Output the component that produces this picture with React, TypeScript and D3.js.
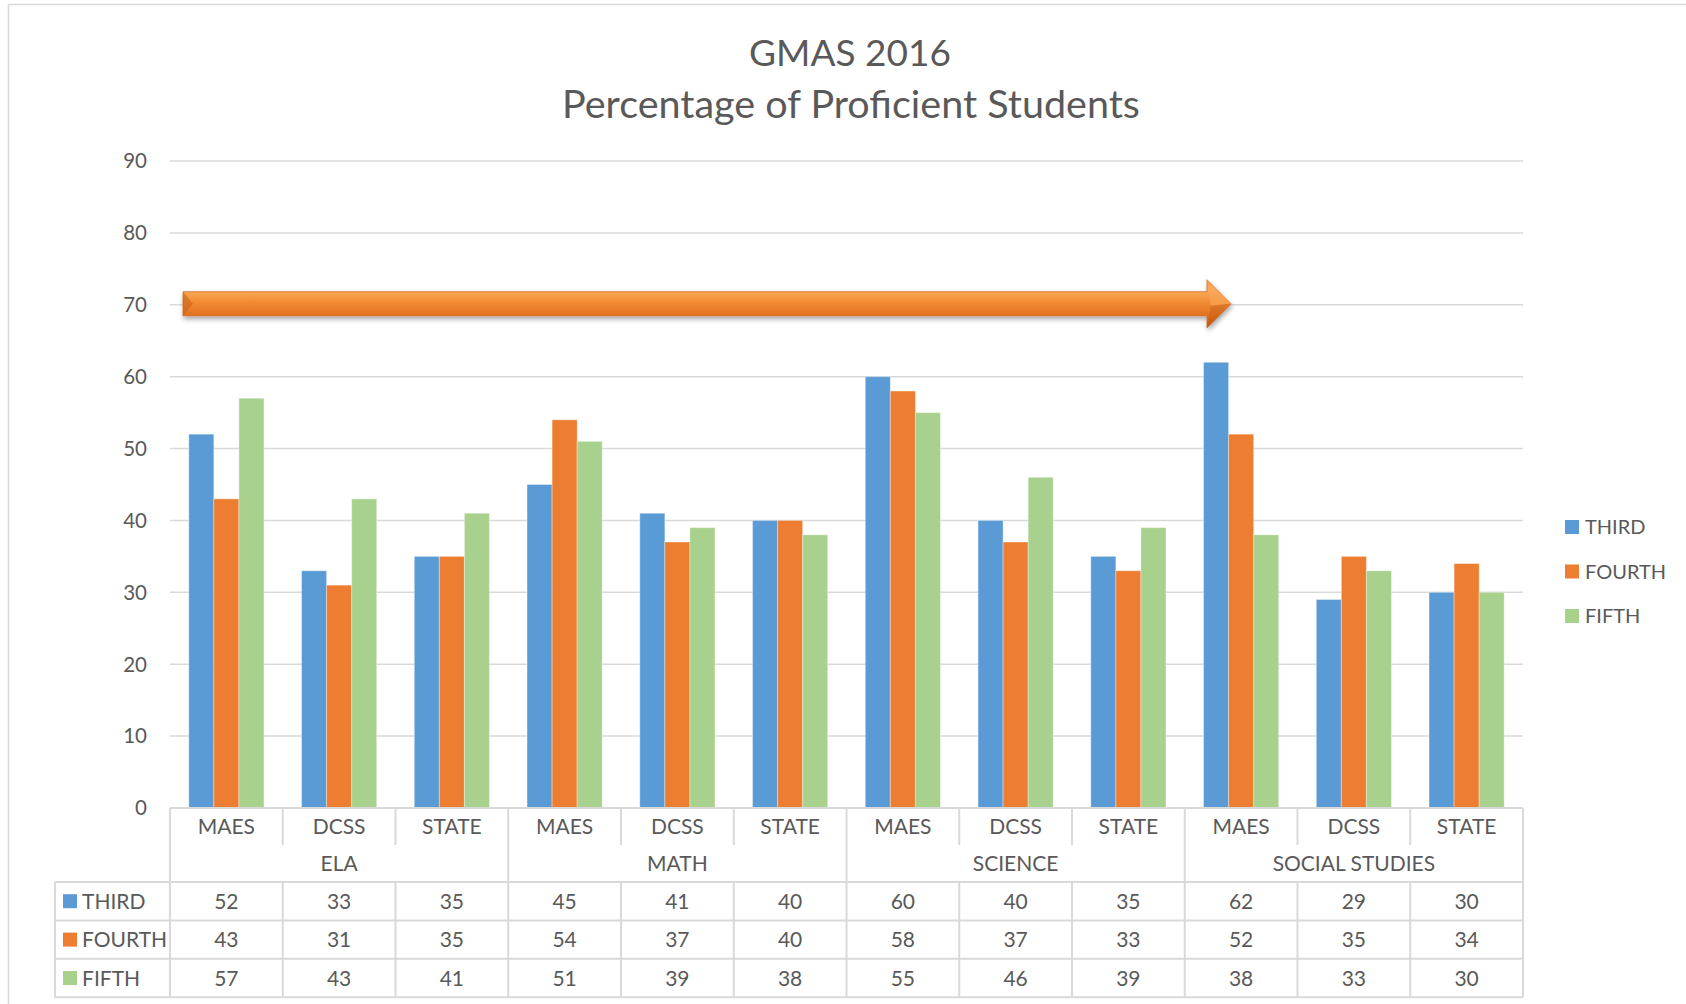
import React, { useEffect, useRef } from "react";
import * as d3 from "d3";

const schools = ["MAES", "DCSS", "STATE", "MAES", "DCSS", "STATE", "MAES", "DCSS", "STATE", "MAES", "DCSS", "STATE"];
const subjects = ["ELA", "MATH", "SCIENCE", "SOCIAL STUDIES"];
const seriesNames = ["THIRD", "FOURTH", "FIFTH"];
const third = [52, 33, 35, 45, 41, 40, 60, 40, 35, 62, 29, 30];
const fourth = [43, 31, 35, 54, 37, 40, 58, 37, 33, 52, 35, 34];
const fifth = [57, 43, 41, 51, 39, 38, 55, 46, 39, 38, 33, 30];
const yTicks = [0, 10, 20, 30, 40, 50, 60, 70, 80, 90];
const colors = ["#5B9BD5", "#ED7D31", "#A9D18E"];

const App = () => {
  const svgRef = useRef<SVGSVGElement>(null);

  useEffect(() => {
    const svg = d3.select(svgRef.current);
    svg.selectAll("*").remove();

    const width = 1686,
      height = 1004;
    const left = 170,
      right = 1523,
      top = 161,
      bottom = 808;
    const font = "Lato, 'Open Sans', sans-serif";
    const textColor = "#595959";
    const lineColor = "#d9d9d9";

    svg.attr("width", width).attr("height", height);

    const series = [third, fourth, fifth];
    const idx = schools.map((_, i) => i);

    const x0 = d3.scaleBand<number>().domain(idx).range([left, right]).padding(0);
    const x1 = d3
      .scaleBand<number>()
      .domain([0, 1, 2])
      .range([0, x0.bandwidth()])
      .paddingInner(0)
      .paddingOuter(0.75);
    const y = d3.scaleLinear().domain([0, 90]).range([bottom, top]);

    // arrow gradient + shadow
    const defs = svg.append("defs");
    const grad = defs
      .append("linearGradient")
      .attr("id", "arrowGrad")
      .attr("x1", 0)
      .attr("y1", 0)
      .attr("x2", 0)
      .attr("y2", 1);
    [
      [0, "#EE8A38"],
      [0.18, "#FBB264"],
      [0.45, "#F28D35"],
      [0.75, "#E2701F"],
      [1, "#B9581A"],
    ].forEach(([o, c]) => grad.append("stop").attr("offset", o as number).attr("stop-color", c as string));
    const filter = defs
      .append("filter")
      .attr("id", "shadow")
      .attr("x", "-5%")
      .attr("y", "-50%")
      .attr("width", "110%")
      .attr("height", "200%");
    filter
      .append("feDropShadow")
      .attr("dx", 1)
      .attr("dy", 3)
      .attr("stdDeviation", 2.5)
      .attr("flood-color", "#000")
      .attr("flood-opacity", 0.35);

    // outer frame
    svg
      .append("rect")
      .attr("x", 8.5)
      .attr("y", 4.5)
      .attr("width", 1760)
      .attr("height", 1100)
      .attr("fill", "#fff")
      .attr("stroke", lineColor)
      .attr("stroke-width", 1.5);

    // title
    svg
      .append("text")
      .attr("x", 850)
      .attr("y", 66)
      .attr("text-anchor", "middle")
      .attr("fill", textColor)
      .attr("font-family", font)
      .attr("font-size", 37)
      .text("GMAS 2016");
    svg
      .append("text")
      .attr("x", 851)
      .attr("y", 118)
      .attr("text-anchor", "middle")
      .attr("fill", textColor)
      .attr("font-family", font)
      .attr("font-size", 39.5)
      .text("Percentage of Proficient Students");

    // gridlines
    svg
      .append("g")
      .selectAll("line")
      .data(yTicks.filter((t) => t > 0))
      .enter()
      .append("line")
      .attr("x1", left)
      .attr("x2", right)
      .attr("y1", (d) => y(d))
      .attr("y2", (d) => y(d))
      .attr("stroke", lineColor)
      .attr("stroke-width", 1.5);

    // y labels
    svg
      .append("g")
      .selectAll("text")
      .data(yTicks)
      .enter()
      .append("text")
      .attr("x", 147)
      .attr("y", (d) => y(d))
      .attr("dy", "0.36em")
      .attr("text-anchor", "end")
      .attr("fill", textColor)
      .attr("font-family", font)
      .attr("font-size", 20.5)
      .text((d) => d);

    // bars
    series.forEach((vals, s) => {
      svg
        .append("g")
        .selectAll("rect")
        .data(vals)
        .enter()
        .append("rect")
        .attr("x", (_, i) => (x0(i) as number) + (x1(s) as number))
        .attr("y", (d) => y(d))
        .attr("width", x1.bandwidth())
        .attr("height", (d) => bottom - y(d))
        .attr("fill", colors[s])
        .attr("stroke", "#ffffff")
        .attr("stroke-opacity", 0.35)
        .attr("stroke-width", 1);
    });

    // arrow annotation
    const ay = y(70) - 1;
    const ax0 = left + 13,
      axBase = 1207,
      axTip = 1231;
    const sh = 12,
      hh = 24;
    svg
      .append("path")
      .attr(
        "d",
        `M${ax0},${ay - sh} L${axBase},${ay - sh} L${axBase},${ay - hh} L${axTip},${ay} L${axBase},${ay + hh} L${axBase},${ay + sh} L${ax0},${ay + sh} Z`
      )
      .attr("fill", "url(#arrowGrad)")
      .attr("stroke", "#D46A1E")
      .attr("stroke-width", 0.8)
      .attr("filter", "url(#shadow)");
    // bevels
    svg
      .append("path")
      .attr("d", `M${ax0},${ay - sh} L${ax0 + 10},${ay} L${ax0},${ay + sh} Z`)
      .attr("fill", "#C9621C")
      .attr("opacity", 0.6);
    svg
      .append("path")
      .attr("d", `M${axBase},${ay - hh} L${axTip},${ay} L${axBase + 4},${ay + 2} Z`)
      .attr("fill", "#F9A555")
      .attr("opacity", 0.7);
    svg
      .append("path")
      .attr("d", `M${axBase},${ay + hh} L${axTip},${ay} L${axBase + 4},${ay + 2} Z`)
      .attr("fill", "#B9581A")
      .attr("opacity", 0.35);

    // data table
    const catBottom = 845,
      groupBottom = 882,
      rowH = 38.4,
      tableLeft = 55;
    const rowTops = seriesNames.map((_, i) => groupBottom + i * rowH);
    const tableBottom = groupBottom + 3 * rowH;
    const grid = svg.append("g").attr("stroke", lineColor).attr("stroke-width", 2).attr("fill", "none");

    grid.append("line").attr("x1", left).attr("x2", right).attr("y1", bottom).attr("y2", bottom);
    [groupBottom, ...rowTops.slice(1), tableBottom].forEach((yy) =>
      grid.append("line").attr("x1", tableLeft).attr("x2", right).attr("y1", yy).attr("y2", yy)
    );
    d3.range(13).forEach((k) => {
      const xx = k === 12 ? right : (x0(k) as number);
      const full = k % 3 === 0;
      grid
        .append("line")
        .attr("x1", xx)
        .attr("x2", xx)
        .attr("y1", bottom)
        .attr("y2", full ? tableBottom : catBottom);
      if (!full)
        grid.append("line").attr("x1", xx).attr("x2", xx).attr("y1", groupBottom).attr("y2", tableBottom);
    });
    grid.append("line").attr("x1", tableLeft).attr("x2", tableLeft).attr("y1", groupBottom).attr("y2", tableBottom);

    const txt = svg
      .append("g")
      .attr("fill", textColor)
      .attr("font-family", font)
      .attr("font-size", 21)
      .attr("text-anchor", "middle");

    // school labels
    txt
      .selectAll(".school")
      .data(schools)
      .enter()
      .append("text")
      .attr("x", (_, i) => (x0(i) as number) + x0.bandwidth() / 2)
      .attr("y", (bottom + catBottom) / 2)
      .attr("dy", "0.36em")
      .text((d) => d);

    // subject labels
    txt
      .selectAll(".subject")
      .data(subjects)
      .enter()
      .append("text")
      .attr("x", (_, i) => (x0(i * 3) as number) + (x0.bandwidth() * 3) / 2)
      .attr("y", (catBottom + groupBottom) / 2)
      .attr("dy", "0.36em")
      .text((d) => d);

    // values + row headers
    series.forEach((vals, s) => {
      txt
        .append("g")
        .selectAll("text")
        .data(vals)
        .enter()
        .append("text")
        .attr("x", (_, i) => (x0(i) as number) + x0.bandwidth() / 2)
        .attr("y", rowTops[s] + rowH / 2)
        .attr("dy", "0.36em")
        .text((d) => d);

      svg
        .append("rect")
        .attr("x", 63)
        .attr("y", rowTops[s] + rowH / 2 - 7)
        .attr("width", 14)
        .attr("height", 14)
        .attr("fill", colors[s]);
      svg
        .append("text")
        .attr("x", 82)
        .attr("y", rowTops[s] + rowH / 2)
        .attr("dy", "0.36em")
        .attr("fill", textColor)
        .attr("font-family", font)
        .attr("font-size", 21)
        .text(seriesNames[s]);
    });

    // legend
    const legend = svg.append("g");
    seriesNames.forEach((name, s) => {
      const ly = 527 + s * 44.5;
      legend
        .append("rect")
        .attr("x", 1565)
        .attr("y", ly - 7)
        .attr("width", 14)
        .attr("height", 14)
        .attr("fill", colors[s]);
      legend
        .append("text")
        .attr("x", 1585)
        .attr("y", ly)
        .attr("dy", "0.36em")
        .attr("fill", textColor)
        .attr("font-family", font)
        .attr("font-size", 20)
        .text(name);
    });
  }, []);

  return (
    <div style={{ position: "absolute", left: 0, top: 0 }}>
      <svg ref={svgRef} style={{ display: "block" }}></svg>
    </div>
  );
};

export default App;
